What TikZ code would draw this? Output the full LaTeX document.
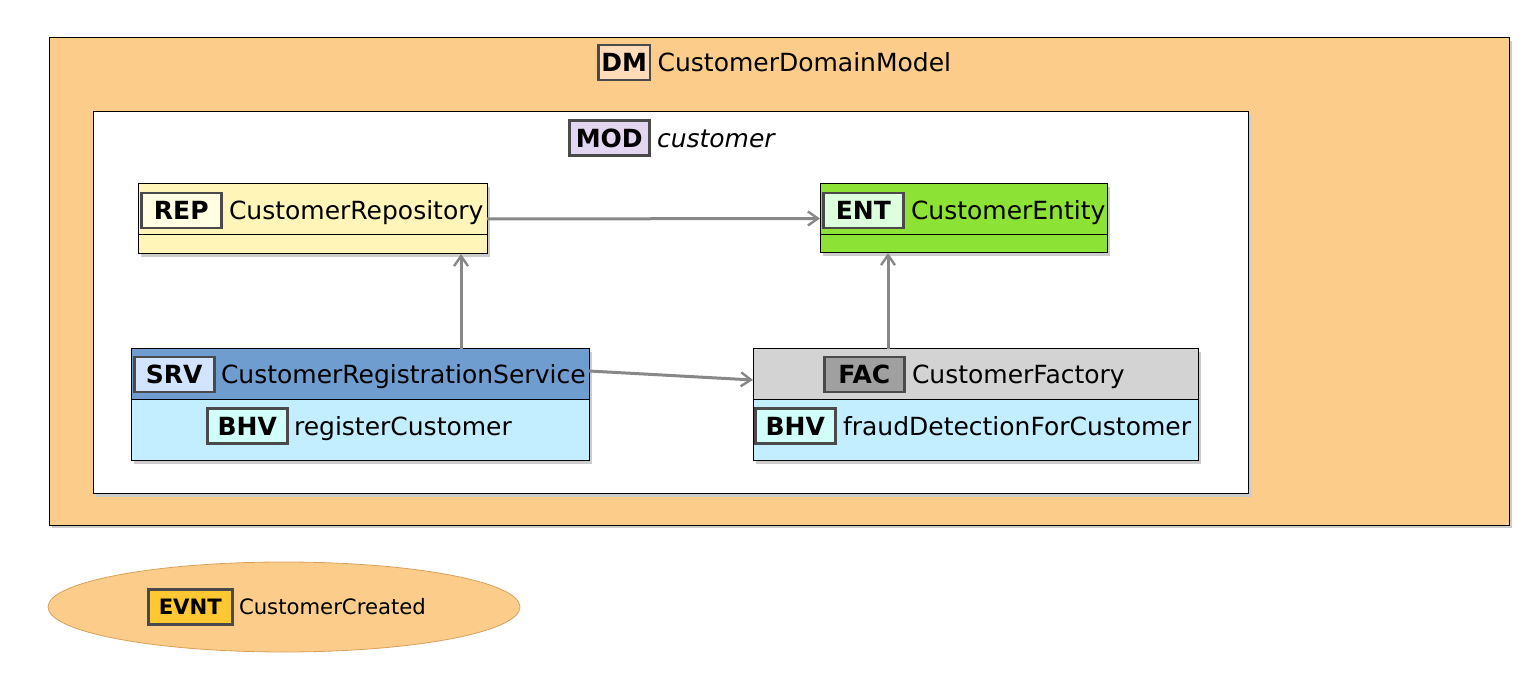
\documentclass[tikz,border=0pt]{standalone}
\usepackage{fontspec}
\setmainfont{DejaVu Sans}
\usetikzlibrary{arrows.meta, positioning, shapes.geometric, shadows}

\definecolor{dmfill}{HTML}{FCCC8A}
\definecolor{dmtag}{HTML}{FFDDBB}
\definecolor{modtag}{HTML}{E2D6F0}
\definecolor{repfill}{HTML}{FFF5B8}
\definecolor{reptag}{HTML}{FFFEE2}
\definecolor{entfill}{HTML}{8DE236}
\definecolor{enttag}{HTML}{DDFFDD}
\definecolor{srvhead}{HTML}{6F9DD0}
\definecolor{srvtag}{HTML}{D2E4FF}
\definecolor{bhvfill}{HTML}{C2EEFF}
\definecolor{bhvtag}{HTML}{CFFFF8}
\definecolor{fachead}{HTML}{D3D3D3}
\definecolor{factag}{HTML}{A0A0A0}
\definecolor{evntborder}{HTML}{D9A05A}
\definecolor{evnttag}{HTML}{FFC833}
\definecolor{tagborder}{HTML}{4A4A4A}
\definecolor{flowgray}{HTML}{888888}

\tikzset{
	box/.style={draw=black, line width=0.5pt, inner sep=0pt, outer sep=0pt, anchor=north west,
		drop shadow={shadow xshift=1.5pt, shadow yshift=-1.5pt, fill=black!20, opacity=1}},
	headed/.style={path picture={
		\fill[#1] (path picture bounding box.north west) rectangle ([yshift=-25.5pt]path picture bounding box.north east);
		\draw[line width=0.5pt] ([yshift=-25.5pt]path picture bounding box.north west) -- ([yshift=-25.5pt]path picture bounding box.north east);}},
	tag/.style={draw=tagborder, line width=1.3pt, minimum width=40pt, minimum height=17.5pt, inner xsep=1pt, inner ysep=0pt,
		text height=9.2pt, text depth=0pt, anchor=west, font=\fontsize{12.5}{15}\selectfont\bfseries},
	boxtitle/.style={inner sep=0pt, text height=9.2pt, text depth=0pt},
	flow/.style={draw=flowgray, line width=1.5pt, -{Straight Barb[length=5pt, width=7pt, line width=1.2pt]}}
}

\begin{document}
\begin{tikzpicture}[x=0.5pt, y=-0.5pt, node distance=3pt, font=\fontsize{12.5}{15}\selectfont]
	\useasboundingbox (0,0) rectangle (1530,683);
	
	%%% Domain model
	\node[box, fill=dmfill, minimum width=730pt, minimum height=243.5pt] (dm) at (49,38) {};
	\node[tag, fill=dmtag, minimum width=0pt, inner xsep=1.5pt] (dmTag) at (597,62.5) {DM};
	\node[boxtitle, right=3pt of dmTag] (dmName) {CustomerDomainModel};
	
	%%% Module
	\node[box, fill=white, minimum width=577.5pt, minimum height=191pt] (mod) at (93,112) {};
	\node[tag, fill=modtag] (modTag) at (568,138) {MOD};
	\node[boxtitle, right=3pt of modTag] (modName) {\itshape customer};
	
	% Repository
	\node[box, fill=repfill, headed=repfill, minimum width=174.5pt, minimum height=35pt] (rep) at (138,184) {};
	\node[tag, fill=reptag] (repTag) at (140,210.5) {REP};
	\node[boxtitle, right=3pt of repTag] (repName) {CustomerRepository};
	
	% Entity
	\node[box, fill=entfill, headed=entfill, minimum width=143.5pt, minimum height=34.5pt] (ent) at (820,184) {};
	\node[tag, fill=enttag] (entTag) at (822,210.5) {ENT};
	\node[boxtitle, right=3pt of entTag] (entName) {CustomerEntity};
	
	% Service
	\node[box, fill=bhvfill, headed=srvhead, minimum width=229pt, minimum height=56pt] (srv) at (131,349) {};
	\node[tag, fill=srvtag] (srvTag) at (133,374.5) {SRV};
	\node[boxtitle, right=2.5pt of srvTag] (srvName) {CustomerRegistrationService};
	\node[tag, fill=bhvtag] (srvBhv) at (206,426) {BHV};
	\node[boxtitle, right=2.5pt of srvBhv] (srvBhvName) {registerCustomer};
	
	% Factory
	\node[box, fill=bhvfill, headed=fachead, minimum width=222.5pt, minimum height=56pt] (fac) at (753,349) {};
	\node[tag, fill=factag] (facTag) at (823,374.5) {FAC};
	\node[boxtitle, right=3pt of facTag] (facName) {CustomerFactory};
	\node[tag, fill=bhvtag] (facBhv) at (754,426) {BHV};
	\node[boxtitle, right=3pt of facBhv] (facBhvName) {fraudDetectionForCustomer};
	
	%%% Event
	\node[ellipse, draw=evntborder, line width=0.4pt, fill=dmfill, minimum width=236pt, minimum height=45pt] (evnt) at (284,607) {};
	\node[tag, fill=evnttag, minimum width=42pt, text height=7.8pt, font=\fontsize{10.6}{13}\selectfont\bfseries] (evntTag) at (147,607) {EVNT};
	\node[boxtitle, right=2.5pt of evntTag, text height=7.8pt, font=\fontsize{10.6}{13}\selectfont] (evntName) {CustomerCreated};
	
	%%% Connectors
	\draw[flow] (rep.east) -- (ent.west);
	\draw[flow] (srv.north -| 461,0) -- (rep.south -| 461,0);
	\draw[flow] ([yshift=-11pt]srv.north east) -- ([yshift=-15.5pt]fac.north west);
	\draw[flow] (fac.north -| 888,0) -- (ent.south -| 888,0);
\end{tikzpicture}
\end{document}
